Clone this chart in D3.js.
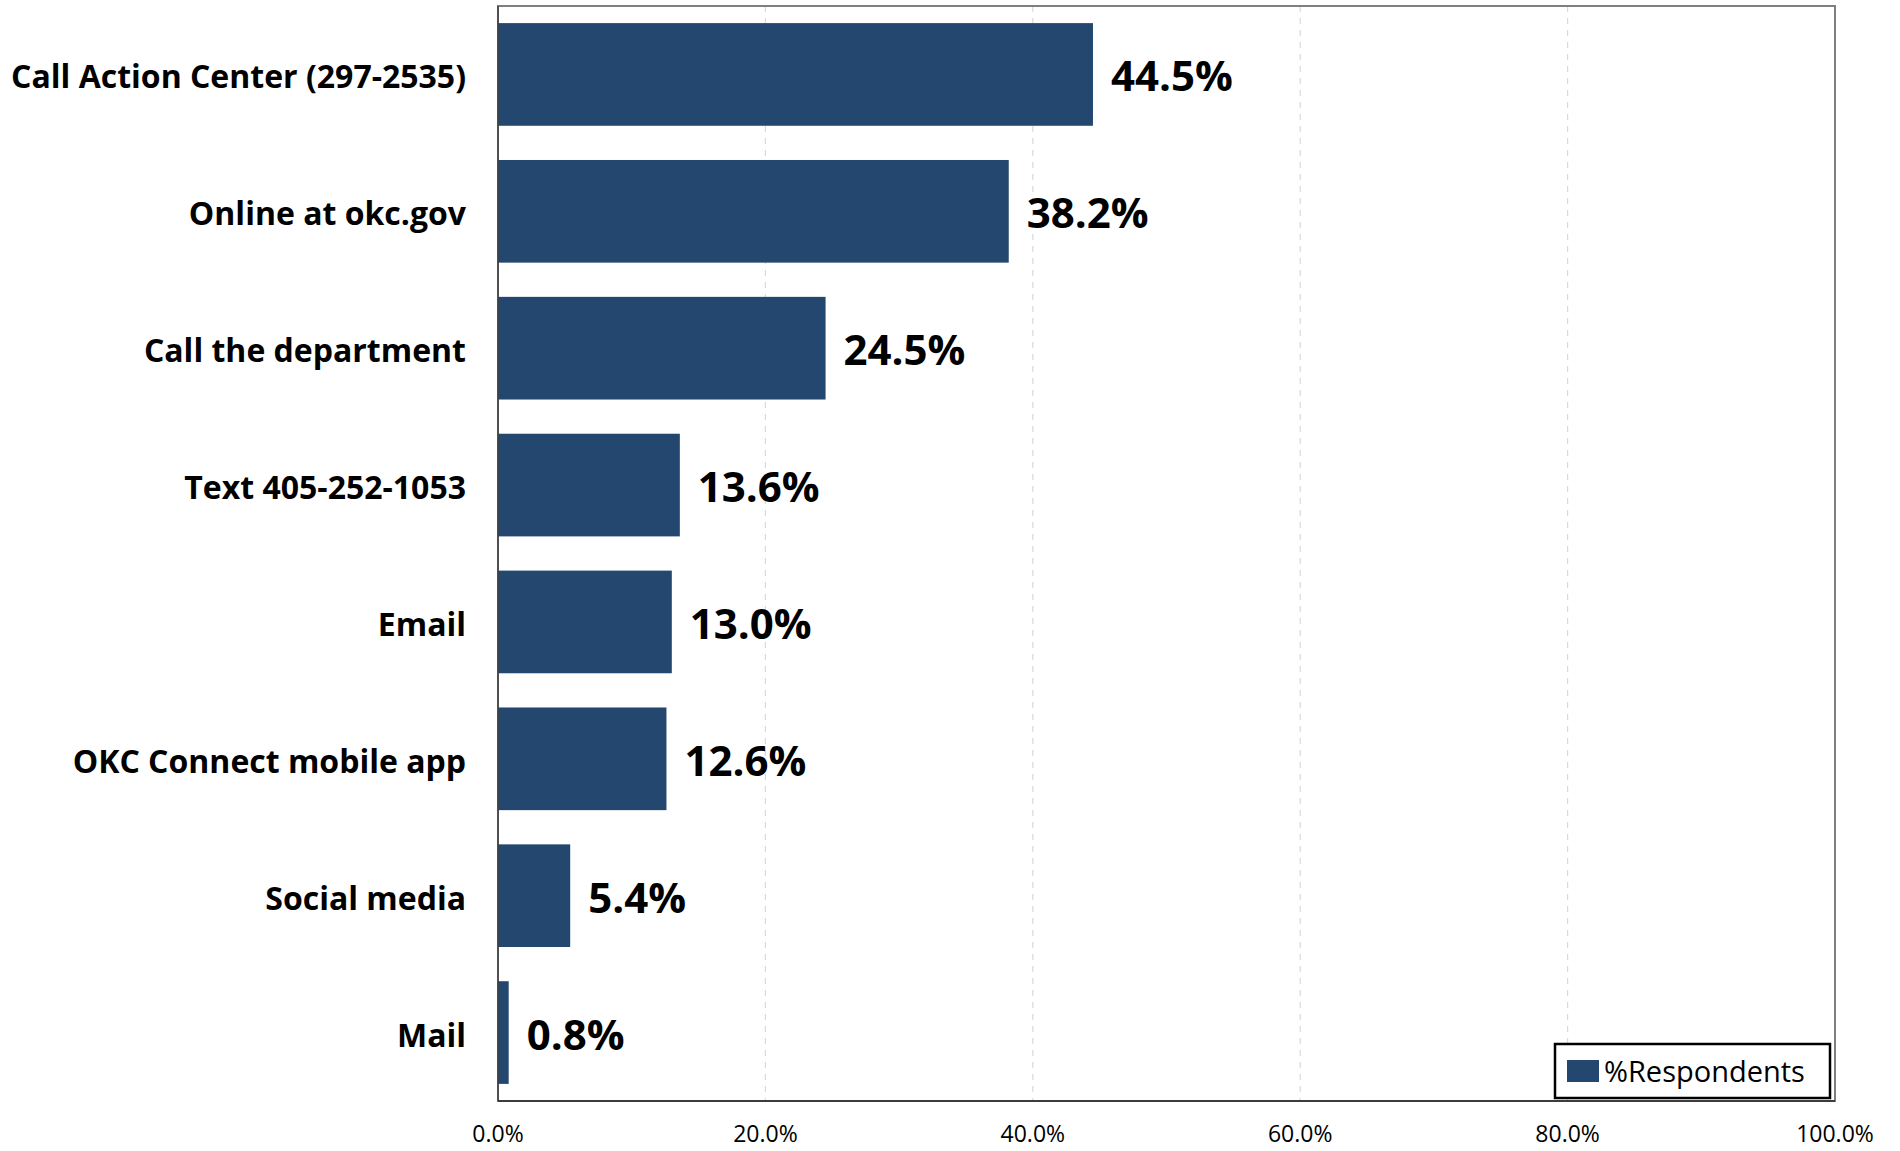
<!DOCTYPE html>
<html>
<head>
<meta charset="utf-8">
<script src="https://cdn.jsdelivr.net/npm/d3@7"></script>
<style>
    body { margin: 0; background: #fff; }
    text { font-family: "Open Sans", sans-serif; }
</style>
</head>
<body>
<svg id="chart" width="1900" height="1151"></svg>
<script>
// Chart data
const categories = ["Call Action Center (297-2535)", "Online at okc.gov", "Call the department",
    "Text 405-252-1053", "Email", "OKC Connect mobile app", "Social media", "Mail"];
const respondents = [44.5, 38.2, 24.5, 13.6, 13.0, 12.6, 5.4, 0.8];
const xTicks = [0, 20, 40, 60, 80, 100];
const seriesName = "%Respondents";

let margin = {top: 6, right: 65, bottom: 50, left: 498},
    width = 1900 - margin.left - margin.right,
    height = 1151 - margin.top - margin.bottom;

let svg = d3.select("#chart");
let g = svg.append("g")
    .attr("transform", "translate(" + margin.left + "," + margin.top + ")");

let xScale = d3.scaleLinear()
    .domain([0, 100])
    .range([0, width]);

let yScale = d3.scaleBand()
    .domain(categories)
    .range([0, height])
    .paddingInner(0.25)
    .paddingOuter(0.125);

//Gridlines
g.selectAll(".grid")
    .data(xTicks.slice(1, -1))
    .enter().append("line")
    .attr("x1", d => xScale(d))
    .attr("x2", d => xScale(d))
    .attr("y1", 0)
    .attr("y2", height)
    .attr("stroke", "#d9d9d9")
    .attr("stroke-width", 1.2)
    .attr("stroke-dasharray", "6,6");

//Plot border
g.append("rect")
    .attr("width", width)
    .attr("height", height)
    .attr("fill", "none")
    .attr("stroke", "#7f7f7f")
    .attr("stroke-width", 2);

//Bars
g.selectAll(".bar")
    .data(respondents)
    .enter().append("rect")
    .attr("class", "bar")
    .attr("x", 0)
    .attr("y", (d, i) => yScale(categories[i]))
    .attr("width", d => xScale(d))
    .attr("height", yScale.bandwidth())
    .attr("fill", "#23476e");

//Left and bottom axis lines
g.append("line").attr("x1", 0).attr("x2", 0).attr("y1", 0).attr("y2", height)
    .attr("stroke", "#404040").attr("stroke-width", 1.5);
g.append("line").attr("x1", 0).attr("x2", width).attr("y1", height).attr("y2", height)
    .attr("stroke", "#262626").attr("stroke-width", 1.5);

//Value labels
g.selectAll(".value")
    .data(respondents)
    .enter().append("text")
    .attr("x", d => xScale(d) + 18)
    .attr("y", (d, i) => yScale(categories[i]) + yScale.bandwidth() / 2 + 17)
    .attr("font-size", 42)
    .attr("font-weight", "bold")
    .attr("fill", "#000")
    .text(d => d.toFixed(1) + "%");

//Category labels
g.selectAll(".cat")
    .data(categories)
    .enter().append("text")
    .attr("x", -32)
    .attr("y", d => yScale(d) + yScale.bandwidth() / 2 + 14)
    .attr("text-anchor", "end")
    .attr("font-size", 32)
    .attr("font-weight", "bold")
    .attr("fill", "#000")
    .text(d => d);

//X tick labels
g.selectAll(".tick-label")
    .data(xTicks)
    .enter().append("text")
    .attr("x", d => xScale(d))
    .attr("y", height + 41)
    .attr("text-anchor", "middle")
    .attr("font-size", 23)
    .attr("fill", "#000")
    .text(d => d.toFixed(1) + "%");

//Legend
let legend = g.append("g")
    .attr("transform", "translate(1057," + (height - 57) + ")");
legend.append("rect")
    .attr("width", 275)
    .attr("height", 54)
    .attr("fill", "#fff")
    .attr("stroke", "#000")
    .attr("stroke-width", 2.5);
legend.append("rect")
    .attr("x", 12)
    .attr("y", 16)
    .attr("width", 32)
    .attr("height", 22)
    .attr("fill", "#23476e");
legend.append("text")
    .attr("x", 49)
    .attr("y", 38)
    .attr("font-size", 29)
    .attr("fill", "#000")
    .text(seriesName);
</script>
</body>
</html>
